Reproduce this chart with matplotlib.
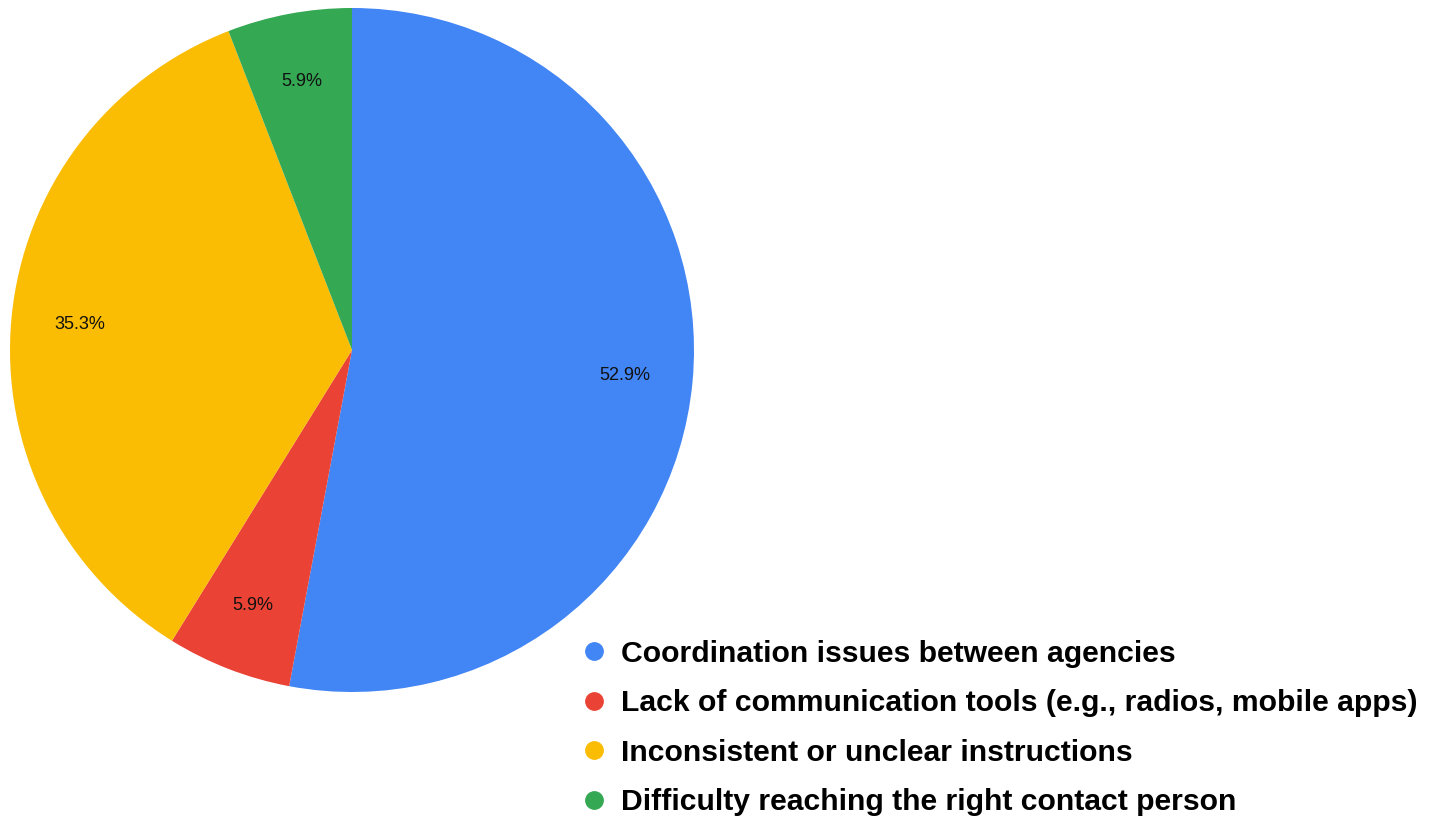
import matplotlib.pyplot as plt
from matplotlib.lines import Line2D

plt.rcParams["font.family"] = ["Liberation Sans", "DejaVu Sans"]

labels = [
    "Coordination issues between agencies",
    "Lack of communication tools (e.g., radios, mobile apps)",
    "Inconsistent or unclear instructions",
    "Difficulty reaching the right contact person",
]
counts = [9, 1, 6, 1]
colors = ["#4285F4", "#EA4335", "#FBBC04", "#34A853"]

W, H = 1429, 816
fig = plt.figure(figsize=(W / 100, H / 100), dpi=100)
cx, cy, r = 352, 350, 342
ax = fig.add_axes([(cx - r) / W, (H - cy - r) / H, 2 * r / W, 2 * r / H])

ax.pie(counts, colors=colors, startangle=90, counterclock=False,
       autopct="%.1f%%", pctdistance=0.8, radius=1,
       textprops={"fontsize": 13, "color": "#111111"},
       wedgeprops={"linewidth": 0})
ax.set_xlim(-1, 1)
ax.set_ylim(-1, 1)
ax.set_aspect("equal")
ax.axis("off")

handles = [Line2D([], [], marker="o", linestyle="none", markersize=12.5,
                  markerfacecolor=c, markeredgecolor=c) for c in colors]
fig.legend(handles, labels, loc="upper left",
           bbox_to_anchor=(579 / W, 1 - 640 / H), frameon=False,
           prop={"weight": "bold", "size": 21.7}, handlelength=1.0,
           handletextpad=0.38, labelspacing=0.71, borderpad=0,
           borderaxespad=0)

fig.savefig("out.png", dpi=100)
